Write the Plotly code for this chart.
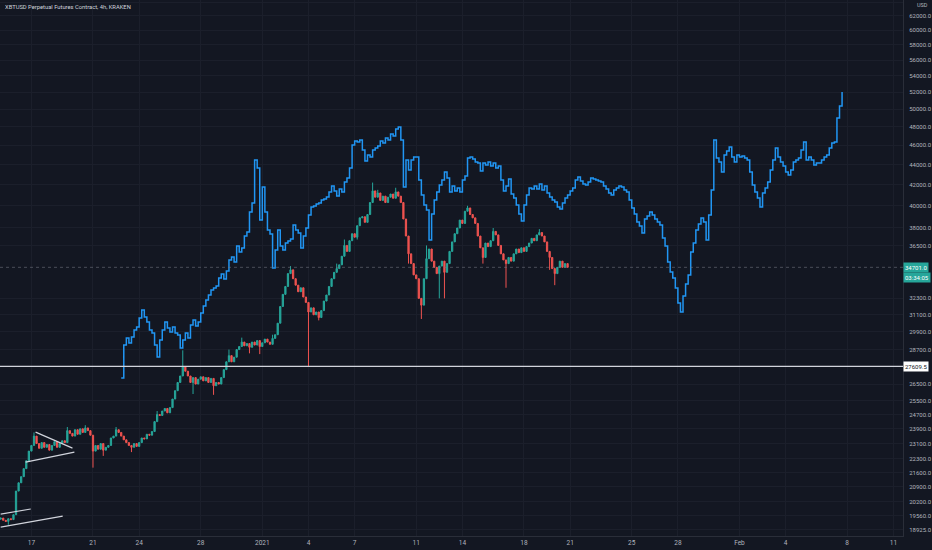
import math
import pandas as pd
import plotly.graph_objects as go

# --- XBTUSD 4h candles (Kraken) ---
CANDLE_START = "2020-12-15 00:00"
closes = [
    19450, 19350, 19300, 19420, 19380, 19600,
    20700, 21100, 21400, 21800, 22200, 22700,
    23000, 23500, 23100, 22850, 23150, 22900,
    23050, 22750, 23000, 23200, 22900, 23100,
    23250, 23150, 23800, 23650, 23500, 23850,
    23600, 23900, 23700, 23950, 23800, 23550,
    22700, 23000, 22800, 23100, 22750, 22900,
    23000, 23400, 23500, 23850, 23700, 23500,
    23300, 23150, 23000, 22900, 23100, 22950,
    23150, 23400, 23350, 23600, 23550, 23750,
    24300, 24700, 24650, 24900, 25050, 24800,
    25100, 25600, 26100, 26600, 27000, 27600,
    27300, 27000, 26600, 26900, 26500, 26800,
    26950, 26700, 26900, 26600, 26850, 26400,
    26600, 26500, 26900, 27400, 27900, 28300,
    27900, 28200, 28700, 28900, 29200, 28950,
    29100, 28850, 29200, 29000, 29300, 28900,
    29150, 29400, 29200, 29050, 29450, 29700,
    30500, 31700, 32600, 33200, 34200, 34500,
    33800, 33300, 32800, 33100, 32400, 32000,
    31300, 31600, 31100, 31300, 30900, 31400,
    32100, 32550, 33200, 33800, 34300, 34600,
    34900, 35600, 36500, 36000, 36900, 37500,
    37200, 38200, 38900, 39000, 38500, 39200,
    40300, 41400, 40800, 41200, 40500, 40900,
    40300, 40800, 41100, 40700, 41300, 40900,
    40300, 38800, 37300, 35800, 35000, 34100,
    33800, 32300, 31800, 33800, 35400, 36200,
    35200, 34700, 34200, 34800, 35200, 34300,
    35000, 36000, 36800, 37500, 38000, 38700,
    38400, 39500, 39800, 39200, 38900, 38400,
    37300, 36300, 35500, 36700, 36400, 36900,
    37700, 37400, 36500, 35800, 35300, 35000,
    35500, 35200, 35800, 36200, 35900, 36300,
    36000, 36400, 36700, 37100, 36900, 37400,
    37600, 37300, 36800, 36000, 35500, 34600,
    34200, 34700, 35200, 34700, 35000, 34701,
]
first_open = 19400
# visible wicks: candle index -> price
wick_highs = {13: 23700, 26: 24000, 33: 24100, 45: 24000, 61: 24900, 71: 28650,
              89: 28700, 94: 29500, 106: 29700, 113: 34800, 131: 35000, 134: 37000,
              145: 42200, 147: 41500, 154: 41700, 166: 36500, 182: 40000,
              192: 38000, 210: 37900}
wick_lows = {3: 19150, 36: 21850, 40: 22450, 51: 22650, 75: 25900, 83: 25850,
             97: 28450, 101: 28400, 120: 27610, 124: 30700, 139: 37000, 159: 35000,
             164: 30800, 171: 32300, 173: 32300, 188: 35000, 197: 33100,
             214: 34500, 216: 33300}

# --- blue projection line (4h closes) ---
BLUE_START = "2020-12-22 20:00"
blue = [
    26870, 29000, 29470, 29130, 29540, 30020, 30230, 30870, 31440, 30940,
    30580, 30020, 29810, 29000, 28210, 29340, 30020, 30580, 30160, 29890,
    30230, 29810, 29680, 28800, 29340, 29810, 29470, 30370, 30730, 30300,
    30580, 31230, 31740, 32180, 32550, 32930, 33080, 33230, 33850, 34170,
    33780, 34410, 35290, 35540, 35130, 36450, 35950, 36280, 37300, 37650,
    39430, 40260, 44460, 43650, 38700, 41770, 39430, 37820, 37470, 34650,
    36120, 37820, 36450, 36120, 36710, 36880, 37050, 38260, 37820, 37560,
    36280, 37300, 37990, 39150, 39890, 39980, 40170, 40260, 40540, 40630,
    40820, 41290, 41870, 41390, 40910, 41580, 41290, 42260, 42650, 43650,
    46030, 46450, 46350, 46560, 45500, 44360, 44970, 44770, 45500, 45710,
    45920, 46450, 46240, 46770, 46560, 47210, 47000, 47760, 47980, 46560,
    41770, 44460, 43450, 44460, 44770, 44770, 42450, 41010, 40070, 39610,
    36960, 39250, 40540, 41290, 41960, 42450, 43250, 42650, 41290, 41870,
    41390, 41680, 41290, 42450, 42850, 44670, 44770, 44560, 44250, 44150,
    43340, 44150, 43950, 44250, 43850, 44150, 43650, 43850, 42450, 41390,
    41870, 42550, 41100, 40720, 40070, 39250, 38620, 40070, 41010, 41680,
    41580, 41870, 41580, 42060, 41480, 41870, 41200, 40820, 40540, 40350,
    39890, 39710, 40260, 40720, 41010, 41390, 41680, 42450, 42750, 42350,
    42060, 41960, 42260, 42650, 42550, 42450, 42350, 42260, 41870, 41580,
    41200, 41010, 41480, 41680, 41870, 41770, 41480, 41290, 40540, 39800,
    39250, 38530, 38170, 37560, 38800, 39070, 39430, 39150, 38800, 38530,
    38260, 37130, 36450, 35130, 34330, 33850, 33080, 31950, 31300, 32480,
    33390, 34090, 35950, 36710, 37820, 38350, 38890, 38530, 36960, 39150,
    41480, 46560, 44670, 44250, 43250, 44970, 45390, 45820, 44770, 44250,
    44970, 44770, 44870, 44670, 44460, 43250, 41960, 41290, 40720, 39890,
    41200, 41680, 42260, 43450, 44460, 45710, 44770, 44250, 43850, 43250,
    42950, 43450, 44250, 44460, 44670, 45500, 46350, 44460, 44770, 44460,
    43950, 44150, 44150, 44460, 44770, 44970, 45710, 46240, 46350, 48990,
    50360, 52020,
]

# --- drawings ---
hline_price = 27609.5
last_price = 34701.0
countdown = "03:34:05"
trendlines = [
    (("2020-12-17 06:30", 23720), ("2020-12-19 16:00", 22860)),
    (("2020-12-16 15:00", 22130), ("2020-12-19 19:00", 22650)),
    (("2020-12-15 00:00", 19630), ("2020-12-16 23:00", 19860)),
    (("2020-12-15 00:00", 19050), ("2020-12-19 00:45", 19540)),
]

y_ticks = [64000, 62000, 60000, 58000, 56000, 54000, 52000, 50000, 48000, 46000,
           44000, 42000, 40000, 38000, 36500, 32300, 31100, 29900, 28700, 26500,
           25500, 24700, 23900, 23100, 22300, 21600, 20900, 20200, 19560, 18925]
x_ticks = ["2020-12-17", "2020-12-21", "2020-12-24", "2020-12-28", "2021-01-01",
           "2021-01-04", "2021-01-07", "2021-01-11", "2021-01-14", "2021-01-18",
           "2021-01-21", "2021-01-25", "2021-01-28", "2021-02-01", "2021-02-04",
           "2021-02-08", "2021-02-11"]
x_labels = ["17", "21", "24", "28", "2021", "4", "7", "11", "14", "18", "21",
            "25", "28", "Feb", "4", "8", "11"]

BG = "#131722"
TXT = "#b2b5be"
UP = "#26a69a"
DOWN = "#ef5350"
FONT = "Roboto"

# ---------------- build OHLC ----------------
opens = [first_open] + closes[:-1]
highs = [max(o, c) for o, c in zip(opens, closes)]
lows = [min(o, c) for o, c in zip(opens, closes)]
for k, v in wick_highs.items():
    highs[k] = v
for k, v in wick_lows.items():
    lows[k] = v
t_candles = pd.date_range(CANDLE_START, periods=len(closes), freq="4h")
t_blue = pd.date_range(BLUE_START, periods=len(blue), freq="4h")

fig = go.Figure()
fig.add_trace(go.Candlestick(
    x=t_candles, open=opens, high=highs, low=lows, close=closes,
    increasing=dict(line=dict(color=UP, width=1), fillcolor=UP),
    decreasing=dict(line=dict(color=DOWN, width=1), fillcolor=DOWN),
    whiskerwidth=0, hoverinfo="skip",
))
fig.add_trace(go.Scatter(
    x=t_blue, y=blue, mode="lines", line=dict(color="#2196f3", width=1.5, shape="hv"),
    hoverinfo="skip",
))

shapes = [
    dict(type="line", xref="paper", x0=0, x1=1, yref="y", y0=last_price, y1=last_price,
         line=dict(color="rgba(120,123,134,0.55)", width=1, dash="dot")),
    dict(type="line", xref="paper", x0=0, x1=1, yref="y", y0=hline_price, y1=hline_price,
         line=dict(color="#d1d4dc", width=1.3)),
]
for (xa, ya), (xb, yb) in trendlines:
    shapes.append(dict(type="line", xref="x", yref="y", x0=xa, y0=ya, x1=xb, y1=yb,
                       line=dict(color="#d1d4dc", width=1.2)))

# annotations on a log axis take log10 positions
annotations = [
    dict(text="XBTUSD Perpetual Futures Contract, 4h, KRAKEN", xref="paper", yref="paper",
         x=0.003, y=0.987, xanchor="left", yanchor="middle", showarrow=False,
         font=dict(family=FONT, size=5.8, color="#d1d4dc")),
    dict(text="USD", xref="paper", yref="paper", x=1, y=0.99, xanchor="left", xshift=12,
         yanchor="middle", showarrow=False, font=dict(family=FONT, size=5.5, color=TXT)),
    dict(text=f"{hline_price:.1f}", xref="paper", yref="y", x=1, y=math.log10(hline_price),
         xanchor="left", yanchor="middle", showarrow=False, xshift=0,
         bgcolor="#ffffff", borderpad=1, font=dict(family=FONT, size=6, color=BG)),
    dict(text=f"{last_price:.1f}", xref="paper", yref="y", x=1, y=math.log10(last_price),
         xanchor="left", yanchor="middle", showarrow=False, xshift=0,
         bgcolor=UP, borderpad=1, font=dict(family=FONT, size=6, color="#ffffff")),
    dict(text=countdown, xref="paper", yref="y", x=1, y=math.log10(last_price),
         xanchor="left", yanchor="middle", showarrow=False, xshift=0, yshift=-10,
         bgcolor=UP, borderpad=1, font=dict(family=FONT, size=6, color="#ffffff")),
]

fig.update_layout(
    width=932, height=550,
    margin=dict(l=0, r=29, t=0, b=14),
    paper_bgcolor=BG, plot_bgcolor=BG,
    showlegend=False, shapes=shapes, annotations=annotations,
    xaxis=dict(
        type="date", range=["2020-12-14 23:00", "2021-02-11 15:00"],
        tickvals=x_ticks, ticktext=x_labels, ticks="", showgrid=True,
        gridcolor="#1b1f2b", gridwidth=1, zeroline=False, automargin=False,
        showline=True, linecolor="#2a2e39", mirror=False,
        tickfont=dict(family=FONT, size=6.5, color=TXT), rangeslider=dict(visible=False),
    ),
    yaxis=dict(
        type="log", side="right",
        range=[4.27091, 4.80841],
        tickvals=y_ticks, ticktext=[f"{v:.1f}" for v in y_ticks],
        ticks="", showgrid=True, gridcolor="#1b1f2b", gridwidth=1, zeroline=False,
        automargin=False, showline=True, linecolor="#2a2e39",
        tickfont=dict(family=FONT, size=6, color=TXT), ticklabelstandoff=4,
    ),
)

# page body margin would shift the 932x550 figure off the window
fig.write_html(
    "out.html",
    config={"displayModeBar": False},
    post_script="document.body.style.margin='0';document.body.style.background='#131722';",
)
